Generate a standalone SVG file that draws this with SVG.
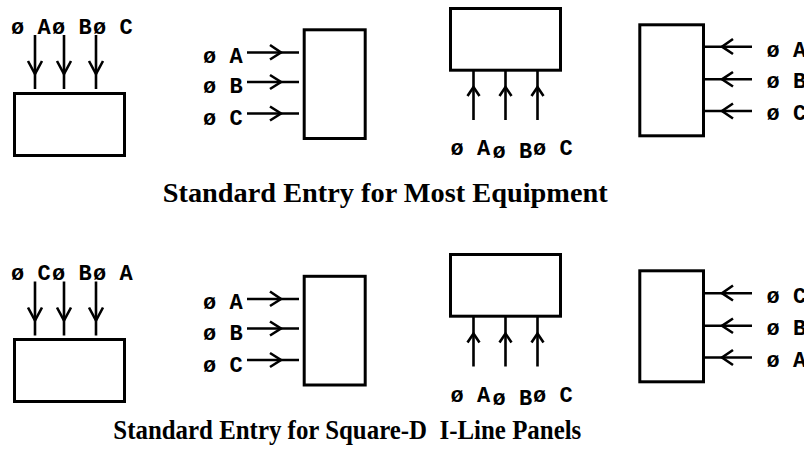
<svg xmlns="http://www.w3.org/2000/svg" width="804" height="454" viewBox="0 0 804 454">
<style>
.box{fill:#fff;stroke:#000;stroke-width:3}
.w{fill:none;stroke:#000;stroke-width:2.6}
.lbl{font-family:"Liberation Mono","Courier New",monospace;font-weight:bold;font-size:22px;fill:#000}
.title{font-family:"Liberation Serif","Times New Roman",serif;font-weight:bold;font-size:28px;fill:#000}
</style>
<rect width="804" height="454" fill="#fff"/>
<g id="connectors">
  <!-- top row -->
  <path class="w" d="M35 35V89M64 35V89M96 35V89"/>
  <path class="w" d="M28 61L35 74L42 61M57 61L64 74L71 61M89 61L96 74L103 61"/>
  <path class="w" d="M247 52.5H299M247 82H299M247 113.5H299"/>
  <path class="w" d="M270 45L281 52.5L270 59.5M270 75L281 82L270 89M270 106.5L281 113.5L270 120.5"/>
  <path class="w" d="M473.5 67V120M505.5 67V120M537.5 67V120"/>
  <path class="w" d="M467.5 96L473.5 87L479.5 96M499.5 96L505.5 87L511.5 96M531.5 96L537.5 87L543.5 96"/>
  <path class="w" d="M698 46.7H752M698 79.3H752M698 111H752"/>
  <path class="w" d="M733 39L722 46.7L733 54M733 72L722 79.3L733 86.5M733 103.5L722 111L733 118.5"/>
  <!-- bottom row -->
  <path class="w" d="M35 281.5V335.5M64 281.5V335.5M96 281.5V335.5"/>
  <path class="w" d="M28 307.5L35 320.5L42 307.5M57 307.5L64 320.5L71 307.5M89 307.5L96 320.5L103 307.5"/>
  <path class="w" d="M247 299H299M247 328.5H299M247 360H299"/>
  <path class="w" d="M270 291.5L281 299L270 306M270 321.5L281 328.5L270 335.5M270 353L281 360L270 367"/>
  <path class="w" d="M473.5 313.5V366.5M505.5 313.5V366.5M537.5 313.5V366.5"/>
  <path class="w" d="M467.5 342.5L473.5 333.5L479.5 342.5M499.5 342.5L505.5 333.5L511.5 342.5M531.5 342.5L537.5 333.5L543.5 342.5"/>
  <path class="w" d="M698 293.2H752M698 325.8H752M698 357.5H752"/>
  <path class="w" d="M733 285.5L722 293.2L733 300.5M733 318.5L722 325.8L733 333M733 350L722 357.5L733 365"/>
</g>
<g id="node-top-1">
  <rect class="box" x="14.5" y="93.5" width="110" height="62"/>
  <text class="lbl" x="11" y="33.5">ø A</text>
  <text class="lbl" x="52" y="33.5">ø B</text>
  <text class="lbl" x="93" y="33.5">ø C</text>
</g>
<g id="node-top-2">
  <rect class="box" x="304.2" y="29.8" width="61" height="108.7"/>
  <text class="lbl" x="203" y="62.7">ø A</text>
  <text class="lbl" x="203" y="93.3">ø B</text>
  <text class="lbl" x="203" y="125">ø C</text>
</g>
<g id="node-top-3">
  <rect class="box" x="450.5" y="8.5" width="110" height="61.7"/>
  <text class="lbl" x="450.5" y="155">ø A</text>
  <text class="lbl" x="492.5" y="158.3">ø B</text>
  <text class="lbl" x="533" y="155">ø C</text>
</g>
<g id="node-top-4">
  <rect class="box" x="639.8" y="24.8" width="63.7" height="111"/>
  <text class="lbl" x="766.5" y="56.7">ø A</text>
  <text class="lbl" x="766.5" y="88.3">ø B</text>
  <text class="lbl" x="766.5" y="120">ø C</text>
</g>
<text id="title-top" class="title" x="162.7" y="201.5" textLength="445" lengthAdjust="spacingAndGlyphs">Standard Entry for Most Equipment</text>
<g id="node-bottom-1">
  <rect class="box" x="14.5" y="339.5" width="110" height="62"/>
  <text class="lbl" x="11" y="280">ø C</text>
  <text class="lbl" x="52" y="280">ø B</text>
  <text class="lbl" x="93" y="280">ø A</text>
</g>
<g id="node-bottom-2">
  <rect class="box" x="304.2" y="276.3" width="61" height="108.7"/>
  <text class="lbl" x="203" y="309.2">ø A</text>
  <text class="lbl" x="203" y="339.8">ø B</text>
  <text class="lbl" x="203" y="371.5">ø C</text>
</g>
<g id="node-bottom-3">
  <rect class="box" x="450.5" y="254.5" width="110" height="61.7"/>
  <text class="lbl" x="450.5" y="401.5">ø A</text>
  <text class="lbl" x="492.5" y="404.8">ø B</text>
  <text class="lbl" x="533" y="401.5">ø C</text>
</g>
<g id="node-bottom-4">
  <rect class="box" x="639.8" y="270.8" width="63.7" height="111"/>
  <text class="lbl" x="766.5" y="303.2">ø C</text>
  <text class="lbl" x="766.5" y="334.8">ø B</text>
  <text class="lbl" x="766.5" y="366.5">ø A</text>
</g>
<text id="title-bottom" class="title" x="113.3" y="439.3" textLength="468" lengthAdjust="spacingAndGlyphs" xml:space="preserve">Standard Entry for Square-D  I-Line Panels</text>
</svg>
